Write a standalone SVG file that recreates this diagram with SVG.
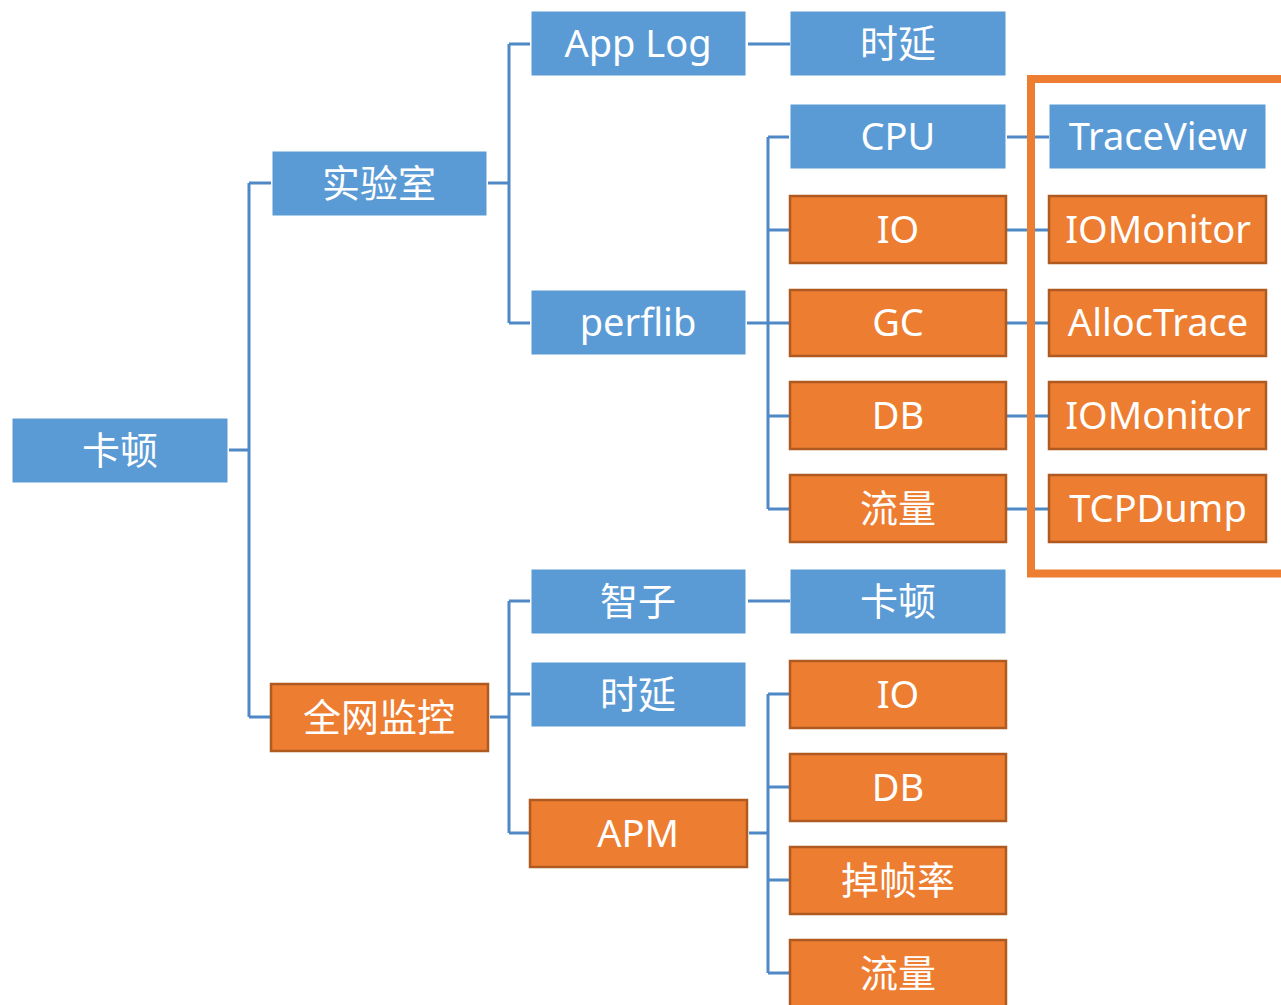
<svg xmlns="http://www.w3.org/2000/svg" width="1281" height="1005" viewBox="0 0 1281 1005">
<style>
.b{fill:#5B9BD5;stroke:#5B9BD5;stroke-width:1}
.o{fill:#ED7D31;stroke:#AE5A21;stroke-width:2.5}
.t{fill:#fff;font-family:"Noto Sans","Noto Sans CJK SC",sans-serif;font-size:38px;text-anchor:middle}
.c{fill:none;stroke:#4F88C6;stroke-width:3}
.hl{fill:none;stroke:#ED7D31;stroke-width:8}
</style>
<rect width="1281" height="1005" fill="#fff"/>
<g id="connectors">
<path class="c" d="M229 450H249M249 183V717M249 183H271M249 717H271"/>
<path class="c" d="M488 183H509M509 44V323M509 44H530M509 323H530"/>
<path class="c" d="M748 44H790"/>
<path class="c" d="M747 323H768M768 137V509M768 137H789M768 230H789M768 323H789M768 416H789M768 509H789"/>
<path class="c" d="M1007 137H1049M1007 230H1048M1007 323H1048M1007 416H1048M1007 509H1048"/>
<path class="c" d="M490 717H509M509 601V833M509 601H530M509 694H530M509 833H529"/>
<path class="c" d="M748 601H790"/>
<path class="c" d="M749 833H768M768 694V973M768 694H789M768 787H789M768 880H789M768 973H789"/>
</g>
<rect id="highlight" class="hl" x="1031" y="79" width="260" height="494.5"/>
<g id="n-root"><rect class="b" x="13" y="419" width="214" height="63"/><text class="t" x="120" y="464">卡顿</text></g>
<g id="n-lab"><rect class="b" x="273" y="152" width="213" height="63"/><text class="t" x="379" y="197">实验室</text></g>
<g id="n-net"><rect class="o" x="271" y="684" width="217" height="67"/><text class="t" x="379" y="731">全网监控</text></g>
<g id="n-applog"><rect class="b" x="532" y="12" width="213" height="63"/><text class="t" x="638" y="57">App Log</text></g>
<g id="n-perflib"><rect class="b" x="532" y="291" width="213" height="63"/><text class="t" x="638" y="336">perflib</text></g>
<g id="n-delay1"><rect class="b" x="791" y="12" width="214" height="63"/><text class="t" x="898" y="57">时延</text></g>
<g id="n-cpu"><rect class="b" x="791" y="105" width="214" height="63"/><text class="t" x="898" y="150">CPU</text></g>
<g id="n-io1"><rect class="o" x="790" y="196" width="216" height="67"/><text class="t" x="898" y="243">IO</text></g>
<g id="n-gc"><rect class="o" x="790" y="290" width="216" height="66"/><text class="t" x="898" y="336">GC</text></g>
<g id="n-db1"><rect class="o" x="790" y="382" width="216" height="67"/><text class="t" x="898" y="429">DB</text></g>
<g id="n-flow1"><rect class="o" x="790" y="475" width="216" height="67"/><text class="t" x="898" y="522">流量</text></g>
<g id="n-traceview"><rect class="b" x="1050" y="105" width="215" height="63"/><text class="t" x="1158" y="150">TraceView</text></g>
<g id="n-iomon1"><rect class="o" x="1049" y="196" width="217" height="67"/><text class="t" x="1158" y="243">IOMonitor</text></g>
<g id="n-alloc"><rect class="o" x="1049" y="290" width="217" height="66"/><text class="t" x="1158" y="336">AllocTrace</text></g>
<g id="n-iomon2"><rect class="o" x="1049" y="382" width="217" height="67"/><text class="t" x="1158" y="429">IOMonitor</text></g>
<g id="n-tcp"><rect class="o" x="1049" y="475" width="217" height="67"/><text class="t" x="1158" y="522">TCPDump</text></g>
<g id="n-zhizi"><rect class="b" x="532" y="570" width="213" height="63"/><text class="t" x="638" y="615">智子</text></g>
<g id="n-delay2"><rect class="b" x="532" y="663" width="213" height="63"/><text class="t" x="638" y="708">时延</text></g>
<g id="n-apm"><rect class="o" x="530" y="800" width="217" height="67"/><text class="t" x="638" y="847">APM</text></g>
<g id="n-kadun2"><rect class="b" x="791" y="570" width="214" height="63"/><text class="t" x="898" y="615">卡顿</text></g>
<g id="n-io2"><rect class="o" x="790" y="661" width="216" height="67"/><text class="t" x="898" y="708">IO</text></g>
<g id="n-db2"><rect class="o" x="790" y="754" width="216" height="67"/><text class="t" x="898" y="801">DB</text></g>
<g id="n-frame"><rect class="o" x="790" y="847" width="216" height="67"/><text class="t" x="898" y="894">掉帧率</text></g>
<g id="n-flow2"><rect class="o" x="790" y="940" width="216" height="67"/><text class="t" x="898" y="987">流量</text></g>
</svg>
